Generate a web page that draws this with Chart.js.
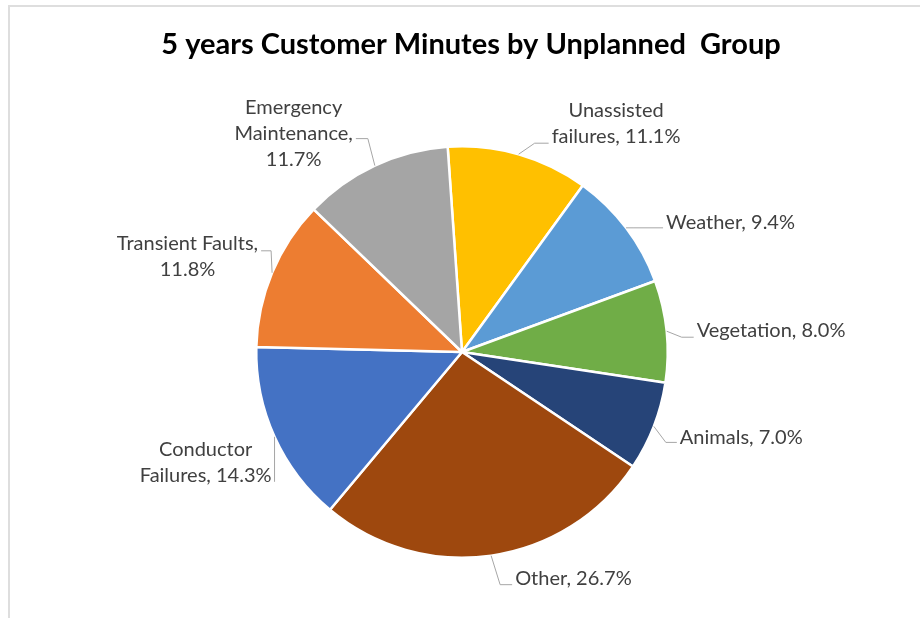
<!DOCTYPE html>
<html>
<head>
<meta charset="utf-8">
<script src="https://cdn.jsdelivr.net/npm/chart.js@4"></script>
<style>
  body { margin: 0; background: #fff; }
  .wrap { position: relative; width: 920px; height: 618px; }
  .frame { position: absolute; left: 8px; top: 5px; right: 0; bottom: 0; border-top: 2px solid #dedede; border-left: 2px solid #dedede; }
  canvas { position: absolute; left: 0; top: 0; }
</style>
</head>
<body>
<div class="wrap">
  <div class="frame"></div>
  <canvas id="pie" width="920" height="618"></canvas>
</div>
<script>
// data
const categories = ["Unassisted failures", "Weather", "Vegetation", "Animals", "Other", "Conductor Failures", "Transient Faults", "Emergency Maintenance"];
const shares = [11.1, 9.4, 8.0, 7.0, 26.7, 14.3, 11.8, 11.7];
const colors = ["#FFC000", "#5B9BD5", "#70AD47", "#264478", "#9E480E", "#4472C4", "#ED7D31", "#A5A5A5"];
const titleText = "5 years Customer Minutes by Unplanned  Group";

// label placement (offset from slice edge to leader end, elbow, text side)
const labelStyle = [
  { dx: 30, dy: -11, elbow: -14, side: "right", oy: -20, breaks: [1] },
  { dx: 37, dy: 0, elbow: -30, side: "right", oy: -5, breaks: [] },
  { dx: 27, dy: 6, elbow: -12, side: "right", oy: -7, breaks: [] },
  { dx: 23, dy: 16, elbow: -11, side: "right", oy: -5, breaks: [] },
  { dx: 21, dy: 29, elbow: -12, side: "right", oy: -6, breaks: [] },
  { dx: 0, dy: 45, elbow: 0, side: "left", oy: -19, breaks: [1] },
  { dx: -11, dy: -22, elbow: 10, side: "left", oy: 6, breaks: [2] },
  { dx: -19, dy: -27, elbow: 12, side: "left", oy: -5, breaks: [1, 2] },
];

function labelLines(i) {
  const words = (categories[i] + ", " + shares[i].toFixed(1) + "%").split(" ");
  const lines = [];
  let cur = [];
  words.forEach((w, k) => {
    cur.push(w);
    if (labelStyle[i].breaks.includes(k + 1)) {
      lines.push(cur.join(" "));
      cur = [];
    }
  });
  lines.push(cur.join(" "));
  return lines;
}

const leaderLabels = {
  id: "leaderLabels",
  afterDatasetsDraw(chart) {
    const ctx = chart.ctx;
    const meta = chart.getDatasetMeta(0);
    const lh = 26;
    ctx.save();
    ctx.font = "20px Lato";
    meta.data.forEach((arc, i) => {
      const p = arc.getProps(["x", "y", "startAngle", "endAngle", "outerRadius"], true);
      const mid = (p.startAngle + p.endAngle) / 2;
      const ex = p.x + Math.cos(mid) * p.outerRadius;
      const ey = p.y + Math.sin(mid) * p.outerRadius;
      const s = labelStyle[i];
      const ax = ex + s.dx;
      const ay = ey + s.dy;

      ctx.strokeStyle = "#a6a6a6";
      ctx.lineWidth = 1;
      ctx.beginPath();
      ctx.moveTo(ex, ey);
      ctx.lineTo(ax + s.elbow, ay);
      ctx.lineTo(ax, ay);
      ctx.stroke();

      const lines = labelLines(i);
      const blockW = Math.max(...lines.map((l) => ctx.measureText(l).width));
      const left = s.side === "right" ? ax + 3 : ax - 3 - blockW;
      const top = ay + s.oy - (lines.length * lh) / 2;
      ctx.fillStyle = "#404040";
      ctx.textAlign = "center";
      ctx.textBaseline = "middle";
      lines.forEach((l, k) => {
        ctx.fillText(l, left + blockW / 2, top + lh * k + lh / 2);
      });
    });

    ctx.font = "bold 29px Lato";
    ctx.fillStyle = "#000";
    ctx.textAlign = "center";
    ctx.textBaseline = "middle";
    ctx.fillText(titleText, 471, 45);
    ctx.restore();
  },
};

new Chart(document.getElementById("pie"), {
  type: "pie",
  data: {
    labels: categories,
    datasets: [
      {
        data: shares,
        backgroundColor: colors,
        borderColor: "#ffffff",
        borderWidth: 2.5,
      },
    ],
  },
  options: {
    responsive: false,
    animation: false,
    rotation: -4,
    layout: { padding: { top: 145, bottom: 59, left: 100, right: 96 } },
    plugins: {
      legend: { display: false },
      tooltip: { enabled: false },
    },
  },
  plugins: [leaderLabels],
});
</script>
</body>
</html>
